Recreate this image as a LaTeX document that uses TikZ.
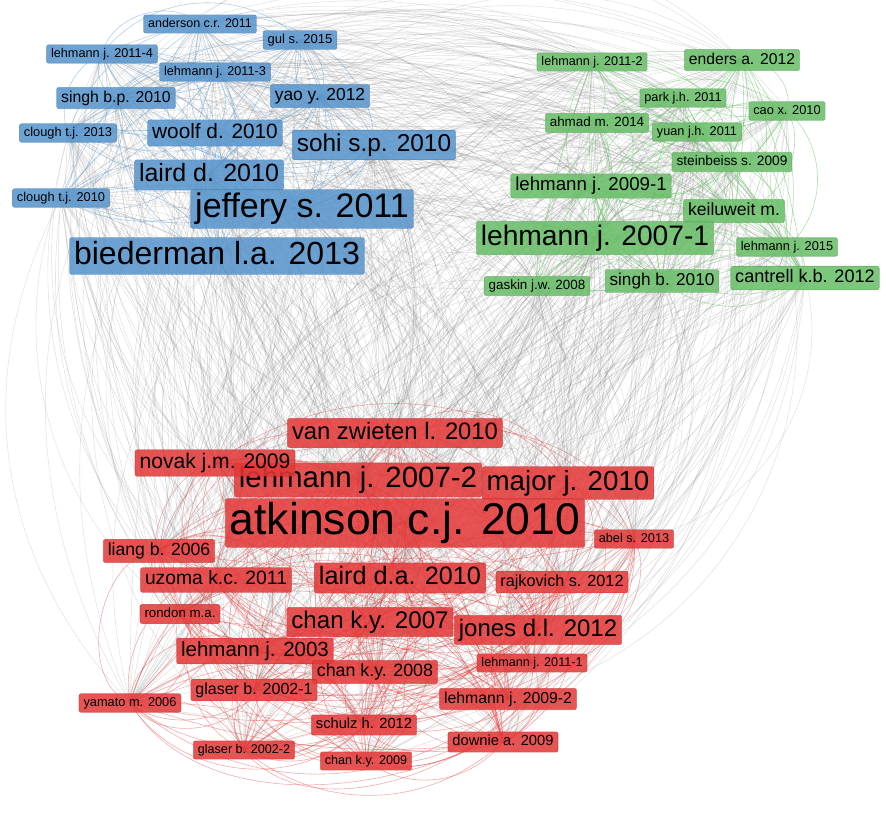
\documentclass[tikz,border=0pt]{standalone}
\usepackage{fontspec}
\setmainfont{Liberation Sans}
\pgfdeclarelayer{edges}
\pgfsetlayers{edges,main}
\definecolor{cb}{RGB}{86,148,204}
\definecolor{cg}{RGB}{104,190,104}
\definecolor{cr}{RGB}{228,56,56}
\definecolor{eb}{RGB}{100,160,215}
\definecolor{eg}{RGB}{100,195,100}
\definecolor{er}{RGB}{228,60,60}
\definecolor{eo}{RGB}{130,130,130}
\tikzset{
 lab/.style={rounded corners=2pt, inner xsep=4.5pt, inner ysep=3.2pt, text=black,
   fill opacity=0.86, text opacity=1, draw opacity=0.5, line width=0.6pt,
   font=\fontsize{#1pt}{#1pt}\selectfont, text height=0.73*#1pt, text depth=0.22*#1pt},
 bl/.style={lab=#1, fill=cb, draw=cb!80!black},
 gr/.style={lab=#1, fill=cg, draw=cg!80!black},
 rd/.style={lab=#1, fill=cr, draw=cr!80!black},
 eoth/.style={draw=eo, opacity=0.22, line width=0.55pt},
 eblu/.style={draw=eb, opacity=0.5, line width=0.6pt},
 egrn/.style={draw=eg, opacity=0.5, line width=0.6pt},
 ered/.style={draw=er, opacity=0.42, line width=0.6pt}
}
\begin{document}
\begin{tikzpicture}[x=1pt,y=-1pt]
\useasboundingbox (0,0) rectangle (886,812);
% blue cluster
\node[bl=12.5] (b1) at (200,24) {anderson c.r. 2011};
\node[bl=13] (b2) at (300,40) {gul s. 2015};
\node[bl=12.7] (b3) at (102,54) {lehmann j. 2011-4};
\node[bl=12.7] (b4) at (215,72) {lehmann j. 2011-3};
\node[bl=15.8] (b5) at (116,98) {singh b.p. 2010};
\node[bl=17.4] (b6) at (320,96) {yao y. 2012};
\node[bl=12.8] (b7) at (68,133) {clough t.j. 2013};
\node[bl=20.8] (b8) at (215,133) {woolf d. 2010};
\node[bl=24.4] (b9) at (374,145) {sohi s.p. 2010};
\node[bl=25] (b10) at (209,175) {laird d. 2010};
\node[bl=12.8] (b11) at (61,198) {clough t.j. 2010};
\node[bl=34] (b12) at (302,209) {jeffery s. 2011};
\node[bl=32] (b13) at (217,256) {biederman l.a. 2013};
% green cluster
\node[gr=12.6] (g1) at (592,62) {lehmann j. 2011-2};
\node[gr=15.7] (g2) at (742,60) {enders a. 2012};
\node[gr=12.7] (g3) at (683,98) {park j.h. 2011};
\node[gr=12.8] (g4) at (787,111) {cao x. 2010};
\node[gr=13.4] (g5) at (597,123) {ahmad m. 2014};
\node[gr=12.7] (g6) at (697,132) {yuan j.h. 2011};
\node[gr=13.7] (g7) at (732,162) {steinbeiss s. 2009};
\node[gr=18.7] (g8) at (591,186) {lehmann j. 2009-1};
\node[gr=17.6] (g9) at (734,211) {keiluweit m.};
\node[gr=28.2] (g10) at (595,238) {lehmann j. 2007-1};
\node[gr=12.8] (g11) at (787,247) {lehmann j. 2015};
\node[gr=13.4] (g12) at (537,286) {gaskin j.w. 2008};
\node[gr=17.2] (g13) at (662,281) {singh b. 2010};
\node[gr=18.1] (g14) at (805,278) {cantrell k.b. 2012};
% red cluster
\node[rd=23.8] (r1) at (395,433) {van zwieten l. 2010};
\node[rd=29.4] (r3) at (358,480) {lehmann j. 2007-2};
\node[rd=21.1] (r2) at (215,463) {novak j.m. 2009};
\node[rd=27.7] (r4) at (568,483) {major j. 2010};
\node[rd=44.5] (r5) at (405,523) {atkinson c.j. 2010};
\node[rd=12.7] (r6) at (634,539) {abel s. 2013};
\node[rd=17.6] (r7) at (159,551) {liang b. 2006};
\node[rd=19.3] (r8) at (216,580) {uzoma k.c. 2011};
\node[rd=25.2] (r9) at (400,578) {laird d.a. 2010};
\node[rd=16.2] (r10) at (562,582) {rajkovich s. 2012};
\node[rd=13.3] (r11) at (180,614) {rondon m.a.};
\node[rd=24.1] (r12) at (370,622) {chan k.y. 2007};
\node[rd=24] (r13) at (538,630) {jones d.l. 2012};
\node[rd=20.5] (r14) at (255,651) {lehmann j. 2003};
\node[rd=17.8] (r15) at (375,672) {chan k.y. 2008};
\node[rd=12.6] (r16) at (532,663) {lehmann j. 2011-1};
\node[rd=16] (r17) at (254,690) {glaser b. 2002-1};
\node[rd=12.8] (r18) at (130,703) {yamato m. 2006};
\node[rd=15.8] (r19) at (508,699) {lehmann j. 2009-2};
\node[rd=14.7] (r20) at (364,725) {schulz h. 2012};
\node[rd=14.7] (r21) at (503,742) {downie a. 2009};
\node[rd=12.6] (r22) at (244,750) {glaser b. 2002-2};
\node[rd=12.6] (r23) at (366,761) {chan k.y. 2009};
\begin{pgfonlayer}{edges}
\fill[white] (0,0) rectangle (886,812);
\pgfmathsetseed{17}
% grey links between clusters
\foreach \i in {1,...,13}{\foreach \j in {1,...,23}{
  \pgfmathsetmacro\bnd{rnd*100-50}
  \draw[eoth] (b\i.center) to[bend left=\bnd] (r\j.center);}}
\foreach \i in {1,...,14}{\foreach \j in {1,...,23}{
  \pgfmathsetmacro\bnd{rnd*100-50}
  \draw[eoth] (g\i.center) to[bend left=\bnd] (r\j.center);}}
\foreach \i in {1,...,13}{\foreach \j in {1,...,14}{
  \pgfmathsetmacro\bnd{rnd*70-15}
  \draw[eoth] (b\i.center) to[bend left=\bnd] (g\j.center);}}
% links inside clusters
\foreach \i in {1,...,13}{\foreach \j in {1,...,13}{
  \ifnum\j>\i
  \pgfmathsetmacro\bnd{rnd*120-60}
  \draw[eblu] (b\i.center) to[bend left=\bnd] (b\j.center);
  \fi}}
\foreach \i in {1,...,14}{\foreach \j in {1,...,14}{
  \ifnum\j>\i
  \pgfmathsetmacro\bnd{rnd*120-60}
  \draw[egrn] (g\i.center) to[bend left=\bnd] (g\j.center);
  \fi}}
\foreach \i in {1,...,23}{\foreach \j in {1,...,23}{
  \ifnum\j>\i
  \pgfmathsetmacro\bnd{rnd*170-85}
  \draw[ered] (r\i.center) to[bend left=\bnd] (r\j.center);
  \fi}}
\end{pgfonlayer}
\end{tikzpicture}
\end{document}
